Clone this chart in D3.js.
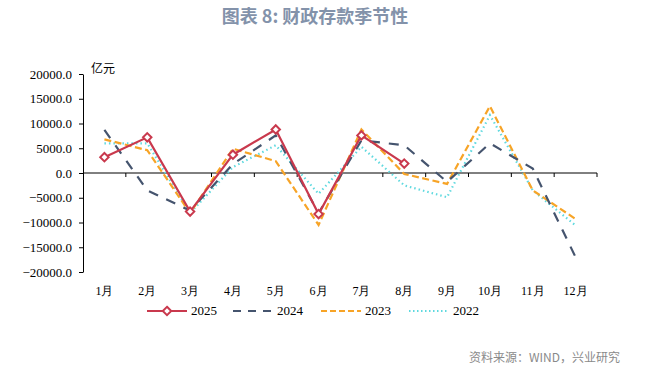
<!DOCTYPE html>
<html>
<head>
<meta charset="utf-8">
<title>财政存款季节性</title>
<script src="https://cdn.jsdelivr.net/npm/d3@7/dist/d3.min.js"></script>
<style>
  body { margin: 0; background: #fff; }
  text { font-family: "Liberation Serif", "DejaVu Serif", serif; }
</style>
</head>
<body>
<script>
// data, 亿元
var months = ["1月","2月","3月","4月","5月","6月","7月","8月","9月","10月","11月","12月"];
var y2025 = [3200, 7200, -7800, 3700, 8800, -8300, 7600, 1900];
var y2024 = [8700, -3500, -7600, 1800, 7600, -8100, 6600, 5600, -1800, 6000, 900, -17000];
var y2023 = [6800, 4600, -8100, 4900, 2400, -10500, 8800, -200, -2200, 13500, -3500, -9300];
var y2022 = [6000, 6000, -8100, 1200, 5600, -4200, 5300, -2500, -4900, 11700, -3500, -10600];
var yTicks = [20000, 15000, 10000, 5000, 0, -5000, -10000, -15000, -20000];

var w = 647, h = 372;
var padL = 83, padR = 597, padT = 74, padB = 272;

var svg = d3.select("body").append("svg")
    .attr("width", w)
    .attr("height", h);

// title
svg.append("text")
    .attr("x", 315).attr("y", 23)
    .attr("text-anchor", "middle")
    .style("font-family", "'Noto Sans CJK SC', sans-serif")
    .style("font-size", "18px")
    .style("font-weight", "bold")
    .attr("fill", "#8392aa")
    .text("图表 8: 财政存款季节性");

var x = d3.scaleBand().domain(months).range([padL, padR]);
var y = d3.scaleLinear().domain([-20000, 20000]).range([padB, padT]);

// y axis
var yAxis = svg.append("g")
    .attr("transform", "translate(" + padL + ",0)")
    .call(d3.axisLeft(y).tickValues(yTicks).tickSize(4).tickSizeOuter(0).tickFormat(d3.format(".1f")));
yAxis.selectAll("path, line").attr("stroke", "#000");
yAxis.selectAll("text").style("font-size", "13px").attr("fill", "#000").attr("dx", "-4");

svg.append("text")
    .attr("x", 91).attr("y", 73)
    .style("font-size", "12px")
    .style("font-family", "'Noto Sans CJK SC', serif")
    .text("亿元");

// x axis at zero with boundary ticks
var y0 = y(0);
svg.append("line")
    .attr("x1", padL).attr("x2", padR)
    .attr("y1", y0).attr("y2", y0)
    .attr("stroke", "#000").attr("stroke-width", 1);
svg.selectAll(".xtick")
    .data(months.map(function(m){ return x(m) + x.bandwidth(); }))
    .enter().append("line")
    .attr("x1", function(d){ return d; }).attr("x2", function(d){ return d; })
    .attr("y1", y0).attr("y2", y0 + 4)
    .attr("stroke", "#000");
svg.selectAll(".xlab")
    .data(months)
    .enter().append("text")
    .attr("x", function(d){ return x(d) + x.bandwidth() / 2; })
    .attr("y", 295)
    .attr("text-anchor", "middle")
    .style("font-size", "12px")
    .text(function(d){ return d; });

var cx = function(d, i){ return x(months[i]) + x.bandwidth() / 2; };
var line = d3.line().x(cx).y(function(d){ return y(d); });

var series = [
  {name: "2022", data: y2022, color: "#5fd9df", dash: "1.5,3", width: 2.2},
  {name: "2023", data: y2023, color: "#f7a427", dash: "7,3.5", width: 2.2},
  {name: "2024", data: y2024, color: "#45546e", dash: "10,9", width: 2.2},
  {name: "2025", data: y2025, color: "#c9394d", dash: null, width: 2.2}
];

series.forEach(function(s){
  svg.append("path")
     .datum(s.data)
     .attr("d", line)
     .attr("fill", "none")
     .attr("stroke", s.color)
     .attr("stroke-width", s.width)
     .attr("stroke-dasharray", s.dash);
});

// 2025 diamond markers
var diamond = d3.symbol().type(d3.symbolDiamond2).size(45);
svg.selectAll(".mk")
    .data(y2025)
    .enter().append("path")
    .attr("d", diamond)
    .attr("transform", function(d, i){ return "translate(" + cx(d, i) + "," + y(d) + ")"; })
    .attr("fill", "#fff")
    .attr("stroke", "#c9394d")
    .attr("stroke-width", 2);

// legend
var legend = [
  {name: "2025", color: "#c9394d", dash: null, x: 147},
  {name: "2024", color: "#45546e", dash: "8,7", x: 233},
  {name: "2023", color: "#f7a427", dash: "6,3", x: 321},
  {name: "2022", color: "#5fd9df", dash: "1.5,2.5", x: 409}
];
var lg = svg.selectAll(".lg").data(legend).enter().append("g");
lg.append("line")
  .attr("x1", function(d){ return d.x; }).attr("x2", function(d){ return d.x + 40; })
  .attr("y1", 311).attr("y2", 311)
  .attr("stroke", function(d){ return d.color; })
  .attr("stroke-width", 2.2)
  .attr("stroke-dasharray", function(d){ return d.dash; });
lg.append("text")
  .attr("x", function(d){ return d.x + 44; })
  .attr("y", 315)
  .style("font-size", "13px")
  .text(function(d){ return d.name; });
svg.append("path")
  .attr("d", diamond)
  .attr("transform", "translate(167,311)")
  .attr("fill", "#fff").attr("stroke", "#c9394d").attr("stroke-width", 2);

// source
svg.append("text")
    .attr("x", 620).attr("y", 362)
    .attr("text-anchor", "end")
    .style("font-family", "'Noto Sans CJK SC', sans-serif")
    .style("font-size", "12px")
    .attr("fill", "#8a8a8a")
    .text("资料来源：WIND，兴业研究");
</script>
</body>
</html>
